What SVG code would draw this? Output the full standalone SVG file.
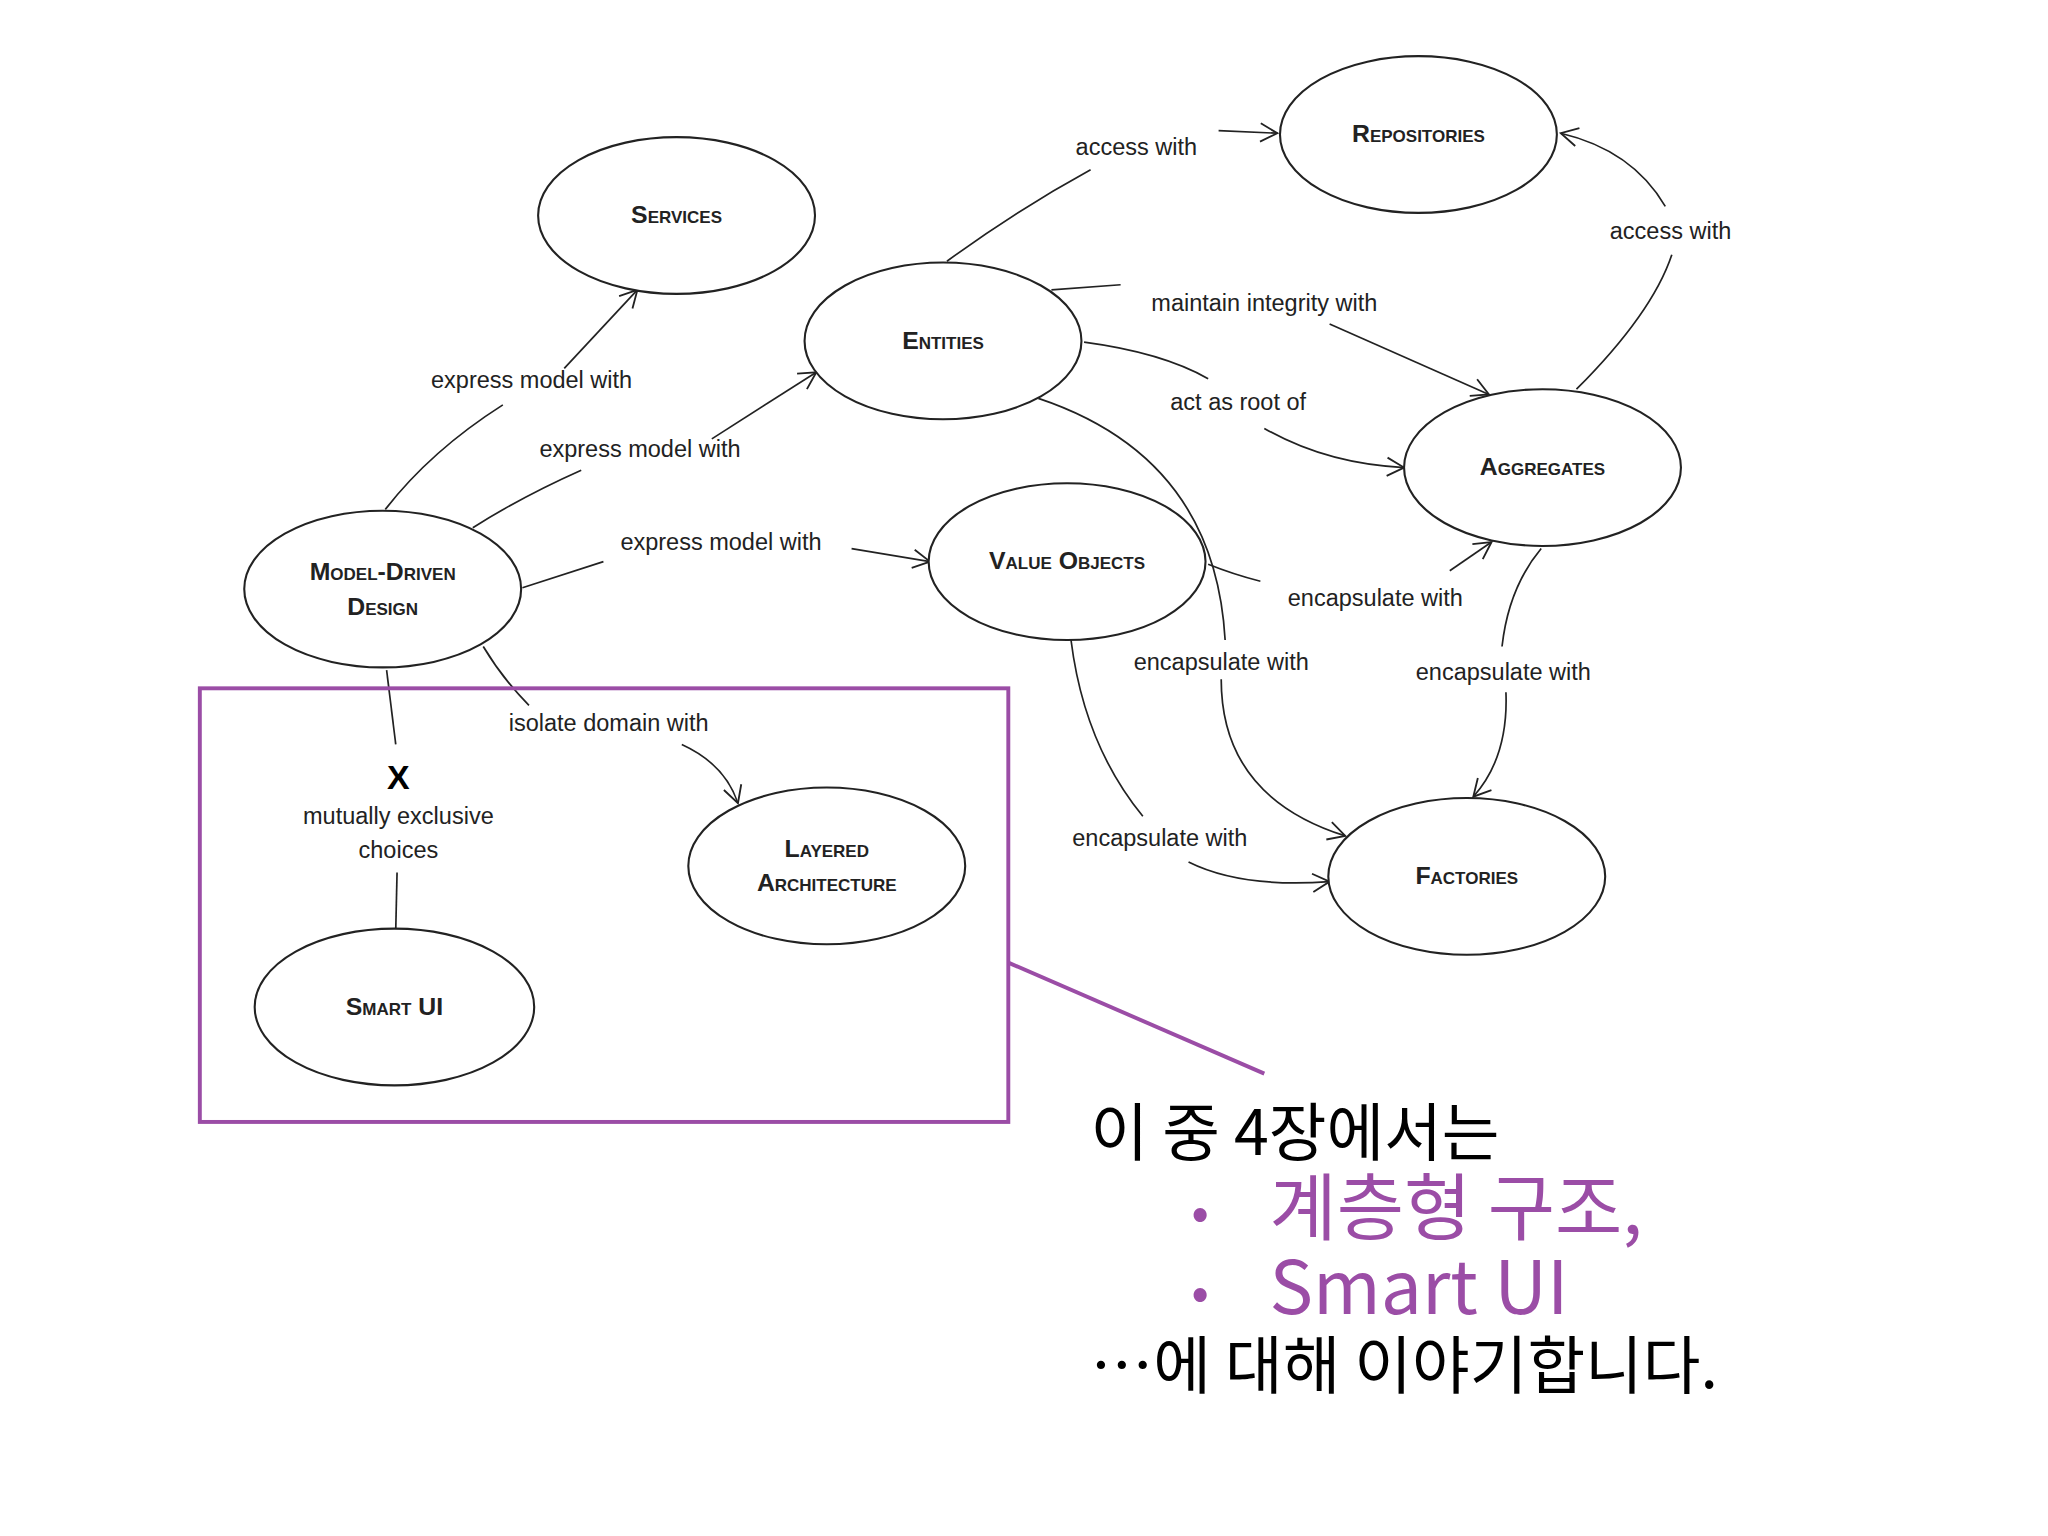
<svg xmlns="http://www.w3.org/2000/svg" width="2048" height="1536" viewBox="0 0 2048 1536">
<style>
.n ellipse{fill:#fff;stroke:#222;stroke-width:1.6}
.n text{font-family:"Liberation Sans",Arial,sans-serif;font-weight:bold;font-size:19px;font-variant:small-caps;text-anchor:middle;fill:#222}
.e path{fill:none;stroke:#222;stroke-width:1.3}
.l{font-family:"Liberation Sans",Arial,sans-serif;font-size:18px;text-anchor:middle;fill:#222}
.k{font-family:"Noto Sans CJK KR","Noto Sans",sans-serif;fill:#000}
.p{fill:#9b4da6}
</style>
<defs>
<marker id="a" markerUnits="userSpaceOnUse" markerWidth="16" markerHeight="16" refX="14" refY="8" orient="auto"><path d="M1,1 L14,8 L1,15" fill="none" stroke="#222" stroke-width="1.4"/></marker>
</defs>
<rect width="2048" height="1536" fill="#fff"/>
<g transform="scale(1.3061)">
<g id="connectors" class="e">
<path d="M295,390 Q330,345 385,310"/><path d="M432,282 L488,222" marker-end="url(#a)"/>
<path d="M362,404 Q400,380 445,360"/><path d="M545,336 L625,285" marker-end="url(#a)"/>
<path d="M400,450 L462,430"/><path d="M652,420 L712,430" marker-end="url(#a)"/>
<path d="M370,495 Q385,520 405,540"/><path d="M522,570 Q555,585 565,615" marker-end="url(#a)"/>
<path d="M296,513 L303,570"/><path d="M304,668 L303,712"/>
<path d="M725,200 Q780,160 835,130"/><path d="M933,100 L978,102" marker-end="url(#a)"/>
<path d="M1207,298 Q1265,240 1280,195"/><path d="M1275,158 Q1250,115 1195,102" marker-end="url(#a)"/>
<path d="M805,222 L858,218"/><path d="M1018,248 L1140,302" marker-end="url(#a)"/>
<path d="M830,262 Q890,270 925,290"/><path d="M968,328 Q1015,355 1075,358" marker-end="url(#a)"/>
<path d="M795,305 Q930,350 938,490"/><path d="M935,520 Q935,610 1030,640" marker-end="url(#a)"/>
<path d="M925,432 Q945,440 965,445"/><path d="M1110,437 L1142,415" marker-end="url(#a)"/>
<path d="M1180,420 Q1155,450 1150,495"/><path d="M1153,530 Q1155,580 1128,610" marker-end="url(#a)"/>
<path d="M820,490 Q830,570 875,625"/><path d="M910,660 Q950,680 1018,675" marker-end="url(#a)"/>
</g>
<g id="labels">
<text class="l" x="407" y="297">express model with</text>
<text class="l" x="490" y="350">express model with</text>
<text class="l" x="552" y="421">express model with</text>
<text class="l" x="466" y="560">isolate domain with</text>
<text x="305" y="604" style="font-family:'Liberation Sans',Arial,sans-serif;font-size:26px;font-weight:bold;text-anchor:middle">X</text>
<text class="l" x="305" y="631">mutually exclusive</text>
<text class="l" x="305" y="657">choices</text>
<text class="l" x="870" y="119">access with</text>
<text class="l" x="1279" y="183">access with</text>
<text class="l" x="968" y="238">maintain integrity with</text>
<text class="l" x="948" y="314">act as root of</text>
<text class="l" x="935" y="513">encapsulate with</text>
<text class="l" x="1053" y="464">encapsulate with</text>
<text class="l" x="1151" y="521">encapsulate with</text>
<text class="l" x="888" y="648">encapsulate with</text>
</g>
<g id="services" class="n"><ellipse cx="518" cy="165" rx="106" ry="60"/><text x="518" y="171">Services</text></g>
<g id="repositories" class="n"><ellipse cx="1086" cy="103" rx="106" ry="60"/><text x="1086" y="109">Repositories</text></g>
<g id="entities" class="n"><ellipse cx="722" cy="261" rx="106" ry="60"/><text x="722" y="267">Entities</text></g>
<g id="aggregates" class="n"><ellipse cx="1181" cy="358" rx="106" ry="60"/><text x="1181" y="364">Aggregates</text></g>
<g id="mdd" class="n"><ellipse cx="293" cy="451" rx="106" ry="60"/><text x="293" y="444">Model-Driven</text><text x="293" y="471">Design</text></g>
<g id="valueobjects" class="n"><ellipse cx="817" cy="430" rx="106" ry="60"/><text x="817" y="436">Value Objects</text></g>
<g id="layered" class="n"><ellipse cx="633" cy="663" rx="106" ry="60"/><text x="633" y="656">Layered</text><text x="633" y="682">Architecture</text></g>
<g id="smartui" class="n"><ellipse cx="302" cy="771" rx="107" ry="60"/><text x="302" y="777">Smart UI</text></g>
<g id="factories" class="n"><ellipse cx="1123" cy="671" rx="106" ry="60"/><text x="1123" y="677">Factories</text></g>
<g id="callout">
<rect x="153" y="527" width="619" height="332" fill="none" stroke="#9b4da6" stroke-width="3"/>
<path d="M772,737 L968,822" stroke="#9b4da6" stroke-width="3" fill="none"/>
<text class="k" x="835" y="884" font-size="48">이 중 4장에서는</text>
<text class="k p" x="912" y="942" font-size="40">•</text>
<text class="k p" x="972" y="945" font-size="56">계층형 구조,</text>
<text class="k p" x="912" y="1003" font-size="40">•</text>
<text class="k p" x="972" y="1006" font-size="56">Smart UI</text>
<text class="k" x="835" y="1063" font-size="48">…에 대해 이야기합니다.</text>
</g>
</g>
</svg>
